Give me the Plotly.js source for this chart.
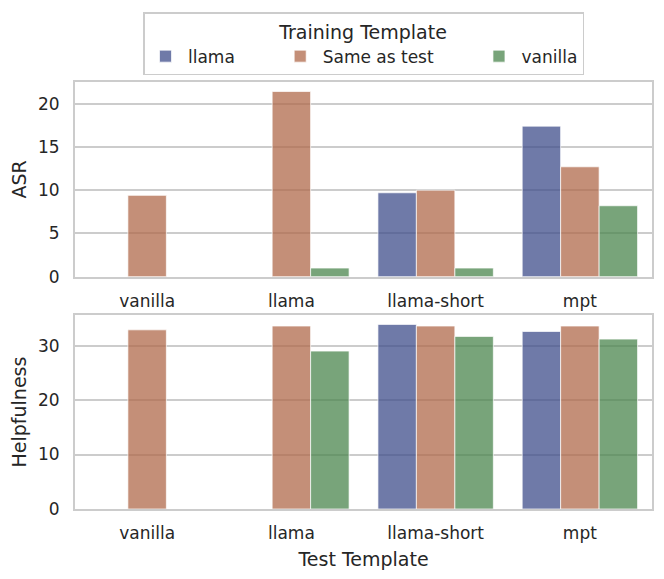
<html>
<head>
<script src="https://cdn.plot.ly/plotly-3.0.1.min.js"></script>
</head>
<body style="margin:0">
<div id="chart"></div>
<script>
  // test templates on the x axis
  let tests = ['vanilla', 'llama', 'llama-short', 'mpt'];
  let trainNames = ['llama', 'Same as test', 'vanilla'];

  // ASR by training template
  let asrLlama = [null, null, 9.7, 17.4];
  let asrSame = [9.4, 21.4, 10.0, 12.7];
  let asrVanilla = [null, 1.0, 1.0, 8.2];

  // Helpfulness by training template
  let helpLlama = [null, null, 33.9, 32.6];
  let helpSame = [32.9, 33.6, 33.6, 33.6];
  let helpVanilla = [null, 29.0, 31.7, 31.2];

  let colors = ['rgba(63,78,139,0.75)', 'rgba(176,106,75,0.75)', 'rgba(75,134,78,0.75)'];
  // trailing no-break spaces widen the legend entries like the original
  let pad = ['\u00a0'.repeat(7), '\u00a0'.repeat(7), ''];

  const mkBar = (vals, i, top) => ({
    type: 'bar',
    x: tests,
    y: vals,
    name: trainNames[i] + pad[i],
    legendgroup: trainNames[i],
    showlegend: top,
    xaxis: top ? 'x' : 'x2',
    yaxis: top ? 'y' : 'y2',
    marker: {color: colors[i], line: {color: 'rgba(255,255,255,0.7)', width: 1}},
    hoverinfo: 'x+y'
  });

  let data = [
    mkBar(asrLlama, 0, true), mkBar(asrSame, 1, true), mkBar(asrVanilla, 2, true),
    mkBar(helpLlama, 0, false), mkBar(helpSame, 1, false), mkBar(helpVanilla, 2, false)
  ];

  let txt = '#262626';
  let frame = {showline: true, mirror: true, linecolor: '#cccccc', linewidth: 2, zeroline: false, ticks: ''};

  let layout = {
    width: 664, height: 579,
    margin: {l: 75, r: 12, t: 80, b: 70},
    font: {family: 'DejaVu Sans', size: 17, color: txt},
    paper_bgcolor: 'white', plot_bgcolor: 'white',
    barmode: 'group', bargap: 0.2, bargroupgap: 0,
    xaxis: Object.assign({}, frame, {domain: [0, 1], anchor: 'y', showgrid: false, ticklabelstandoff: 8}),
    yaxis: Object.assign({}, frame, {
      domain: [0.544, 1], anchor: 'x', range: [0, 22.5], dtick: 5,
      showgrid: true, gridcolor: '#cccccc', gridwidth: 1.5, ticklabelstandoff: 10,
      title: {text: 'ASR', font: {size: 19}, standoff: 6}
    }),
    xaxis2: Object.assign({}, frame, {
      domain: [0, 1], anchor: 'y2', showgrid: false, ticklabelstandoff: 8,
      title: {text: 'Test Template', font: {size: 19}, standoff: 10}
    }),
    yaxis2: Object.assign({}, frame, {
      domain: [0, 0.454], anchor: 'x2', range: [0, 35.6], dtick: 10,
      showgrid: true, gridcolor: '#cccccc', gridwidth: 1.5, ticklabelstandoff: 10,
      title: {text: 'Helpfulness', font: {size: 19}, standoff: 6}
    }),
    legend: {
      orientation: 'h', x: 0.5, xanchor: 'center', y: 1.163, yanchor: 'top',
      bordercolor: '#cccccc', borderwidth: 1.5, bgcolor: 'white',
      font: {size: 17},
      title: {text: 'Training Template', side: 'top center', font: {size: 19}},
      itemwidth: 35
    }
  };

  Plotly.newPlot('chart', data, layout, {displayModeBar: false});
</script>
</body>
</html>
